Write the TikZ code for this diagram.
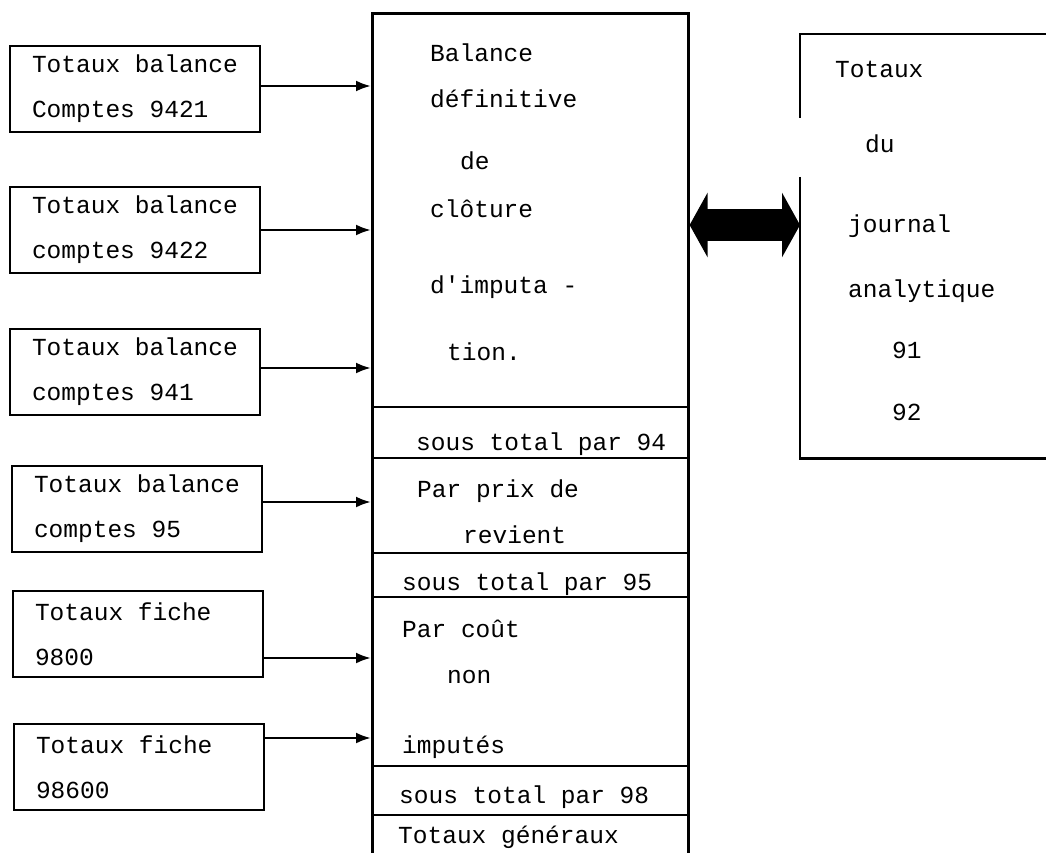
\documentclass[tikz,border=0pt]{standalone}
\usepackage{fontspec}
\setmonofont{Liberation Mono}
\usetikzlibrary{arrows.meta,positioning}

\tikzset{
  every node/.style={font=\ttfamily\fontsize{24.5}{45}\selectfont},
  rule/.style={line width=2.6pt},
  feedbox/.style={draw, rule, minimum width=250, minimum height=86, text width=206, inner xsep=22, align=left,
    execute at begin node={\spaceskip=14.7pt\relax}},
  feedarrow/.style={rule, -{Latex[length=15pt,width=11pt]}},
  txt/.style={anchor=base west, inner sep=0pt},
  bigarrow/.style={line width=32pt, {Triangle[length=18pt,width=64pt]}-{Triangle[length=18pt,width=64pt]}}
}

\begin{document}
\begin{tikzpicture}[x=1pt, y=-1pt]
\clip (0,0) rectangle (1046,853);
\fill[white] (0,0) rectangle (1046,853);

% the boxes on the left
\node[feedbox] (t1) at (135,89) {Totaux balance\\Comptes 9421};
\node[feedbox] (t2) at (135,230) {Totaux balance\\comptes 9422};
\node[feedbox] (t3) at (135,372) {Totaux balance\\comptes 941};
\node[feedbox] (t4) at (137,509) {Totaux balance\\comptes 95};
\node[feedbox] (t5) at (138,634) {Totaux fiche\\9800};
\node[feedbox] (t6) at (139,767) {Totaux fiche\\98600};

% the balance column, open at the foot
\node[draw, rule, minimum width=316, minimum height=900, anchor=north west, inner sep=0pt] (bal) at (371,12) {};
\foreach \y in {407,458,553,597,766,815}
  \draw[rule] (371,\y) -- (687,\y);

\node[txt] (c1) at (430,62) {Balance};
\node[txt] (c2) at (430,108) {définitive};
\node[txt] (c3) at (460,170) {de};
\node[txt] (c4) at (430,217) {clôture};
\node[txt] (c5) at (430,293) {d'imputa -};
\node[txt] (c6) at (447,360) {tion.};
\node[txt] (c7) at (416,450) {sous total par 94};
\node[txt] (c8) at (417,497) {Par prix de};
\node[txt] (c9) at (463,543) {revient};
\node[txt] (c10) at (402,590) {sous total par 95};
\node[txt] (c11) at (402,637) {Par coût};
\node[txt] (c12) at (447,683) {non};
\node[txt] (c13) at (402,753) {imputés};
\node[txt] (c14) at (399,803) {sous total par 98};
\node[txt] (c15) at (398,843) {Totaux généraux};

\draw[feedarrow] ([yshift=3pt]t1.east) -- ([yshift=3pt]t1.east -| bal.west);
\draw[feedarrow] (t2.east) -- (t2.east -| bal.west);
\draw[feedarrow] ([yshift=4pt]t3.east) -- ([yshift=4pt]t3.east -| bal.west);
\draw[feedarrow] ([yshift=7pt]t4.east) -- ([yshift=7pt]t4.east -| bal.west);
\draw[feedarrow] ([yshift=-24pt]t5.east) -- ([yshift=-24pt]t5.east -| bal.west);
\draw[feedarrow] ([yshift=29pt]t6.east) -- ([yshift=29pt]t6.east -| bal.west);

% journal box on the right, open towards the edge
\node[minimum width=260, minimum height=424, anchor=north west, inner sep=0pt] (jour) at (800,34) {};
\draw[rule] (jour.north east) -- (jour.north west) -- ++(0,84);
\draw[rule] ([yshift=-143pt]jour.north west) -- (jour.south west) -- (jour.south east);
\coordinate (jin) at (800,225);

\node[txt] (r1) at (835,78) {Totaux};
\node[txt] (r2) at (865,153) {du};
\node[txt] (r3) at (848,233) {journal};
\node[txt] (r4) at (848,297) {analytique};
\node[txt] (r5) at (892,358) {91};
\node[txt] (r6) at (892,420) {92};

\draw[bigarrow] (bal.east |- jin) -- (jin);
\end{tikzpicture}
\end{document}
